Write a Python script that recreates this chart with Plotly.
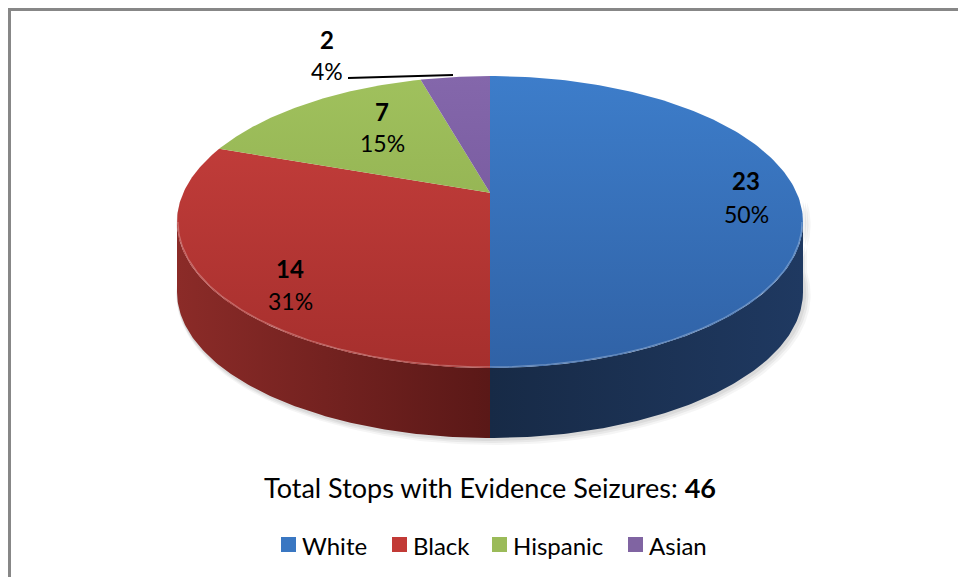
import numpy as np
import plotly.graph_objects as go

# ---- data -------------------------------------------------------------
categories = ["White", "Black", "Hispanic", "Asian"]
counts = [23, 14, 7, 2]
percent_labels = ["50%", "31%", "15%", "4%"]
total_stops = 46
title_text = "Total Stops with Evidence Seizures: "

# ---- styling ----------------------------------------------------------
FONT = "Lato"
TOP_LIGHT = ["#3d7dca", "#c8403d", "#a0c15d", "#8467ab"]
TOP_DARK = ["#3062a6", "#a62f2d", "#88a649", "#6d4f94"]
SIDE_LEFT = ["#172a46", "#8b2b28", "#6b8536", "#55407a"]
SIDE_RIGHT = ["#1f3961", "#5a1817", "#4f6427", "#3c2b57"]
LEGEND_COLORS = ["#3a77c2", "#c23a36", "#9bbb59", "#8064a2"]

# 3-D pie geometry (screen units: the axes span the figure in pixels)
CX, CY = 490.0, 222.0      # centre of the top ellipse
RX, RY = 313.0, 146.0      # radii of the top ellipse
TILT = 0.2                 # perspective shift of the pie centre toward the back
DEPTH = 70.0               # thickness of the disc
K = np.sqrt(1 - TILT ** 2)

W, H = 958, 577


def project(theta, r=1.0):
    """Perspective map of a disc point (angle clockwise from 12 o'clock)."""
    u = r * np.sin(theta)
    v = r * np.cos(theta)
    d = 1 + TILT * v
    return CX + RX * u * K / d, CY - RY * (v + TILT) / d


def screen_phi(theta):
    x, y = project(theta)
    phi = np.arctan2((y - CY) / RY, (x - CX) / RX)
    if phi < -np.pi / 2 - 1e-9:
        phi += 2 * np.pi
    return phi


fig = go.Figure()

total = float(sum(counts))
bounds = np.concatenate([[0.0], np.cumsum(counts) / total]) * 2 * np.pi

# soft shadow under the front rim
for off, alpha in [(7, 0.04), (5, 0.05), (3, 0.06)]:
    ph = np.linspace(-0.15, np.pi + 0.15, 200)
    sx = CX + (RX + off * 0.6) * np.cos(ph) + off * 0.5
    sy = CY + DEPTH + (RY + off * 0.6) * np.sin(ph) + off * 0.4
    fig.add_trace(go.Scatter(
        x=np.concatenate([sx, sx[::-1]]),
        y=np.concatenate([sy, sy[::-1] - DEPTH]),
        mode="lines", line=dict(width=0), fill="toself",
        fillcolor=f"rgba(0,0,0,{alpha})", hoverinfo="skip", showlegend=False))

# visible side walls (front half of the disc)
for i, name in enumerate(categories):
    pa, pb = screen_phi(bounds[i]), screen_phi(bounds[i + 1])
    if bounds[i + 1] >= 2 * np.pi - 1e-9:
        pb = 1.5 * np.pi
    lo, hi = max(pa, 0.0), min(pb, np.pi)
    if hi <= lo:
        continue
    ph = np.linspace(lo, hi, 120)
    tx = CX + RX * np.cos(ph)
    ty = CY + RY * np.sin(ph)
    xs = np.concatenate([tx, tx[::-1], tx[:1]])
    ys = np.concatenate([ty, ty[::-1] + DEPTH, ty[:1]])
    fig.add_trace(go.Scatter(
        x=xs, y=ys, mode="lines", line=dict(width=0), fill="toself",
        fillgradient=dict(type="horizontal", start=float(tx.min()), stop=float(tx.max()),
                          colorscale=[[0, SIDE_LEFT[i]], [1, SIDE_RIGHT[i]]]),
        hoverinfo="skip", showlegend=False))

# top faces
apex = project(0.0, 0.0)
for i, name in enumerate(categories):
    th = np.linspace(bounds[i], bounds[i + 1], 160)
    ax_, ay_ = project(th)
    xs = np.concatenate([[apex[0]], ax_, [apex[0]]])
    ys = np.concatenate([[apex[1]], ay_, [apex[1]]])
    fig.add_trace(go.Scatter(
        x=xs, y=ys, mode="lines", line=dict(width=0), fill="toself",
        fillgradient=dict(type="vertical", start=CY - RY, stop=CY + RY,
                          colorscale=[[0, TOP_LIGHT[i]], [1, TOP_DARK[i]]]),
        name=name, hovertemplate=f"{name}: {counts[i]}<extra></extra>",
        showlegend=False))

# faint highlight along the front edge of the top face
ph = np.linspace(0, np.pi, 200)
fig.add_trace(go.Scatter(
    x=CX + (RX - 1) * np.cos(ph), y=CY + (RY - 1) * np.sin(ph),
    mode="lines", line=dict(width=1.2, color="rgba(255,255,255,0.28)"),
    hoverinfo="skip", showlegend=False))

# ---- data labels ------------------------------------------------------
LABEL_POS = [(746, 180, 214), (290, 268, 301), (382, 111, 143), (327, 39, 71)]
annotations = []
for i in range(len(categories)):
    x, y1, y2 = LABEL_POS[i]
    annotations.append(dict(x=x, y=y1, text=f"<b>{counts[i]}</b>", showarrow=False,
                            font=dict(family=FONT, size=24, color="#000000"),
                            xanchor="center", yanchor="middle"))
    annotations.append(dict(x=x, y=y2, text=percent_labels[i], showarrow=False,
                            font=dict(family=FONT, size=23, color="#000000"),
                            xanchor="center", yanchor="middle"))

# leader line for the small slice
shapes = [dict(type="line", x0=348, y0=78, x1=453, y1=75,
               line=dict(color="#000000", width=2), layer="above")]

# title under the pie
annotations.append(dict(x=490, y=487, text=f"{title_text}<b>{total_stops}</b>",
                        showarrow=False, font=dict(family=FONT, size=27, color="#000000"),
                        xanchor="center", yanchor="middle"))

# legend
LEGEND_X = [281, 392, 492, 628]
for i, name in enumerate(categories):
    x0 = LEGEND_X[i]
    shapes.append(dict(type="rect", x0=x0, x1=x0 + 15, y0=537, y1=552,
                       fillcolor=LEGEND_COLORS[i], line=dict(width=0)))
    annotations.append(dict(x=x0 + 19, y=545, text=name, showarrow=False,
                            font=dict(family=FONT, size=24, color="#000000"),
                            xanchor="left", yanchor="middle"))

# chart frame
shapes.append(dict(type="rect", x0=9.5, y0=9.5, x1=W + 40, y1=H + 40,
                   line=dict(color="#878787", width=3), layer="above"))

fig.update_layout(
    width=W, height=H,
    margin=dict(l=0, r=0, t=0, b=0),
    paper_bgcolor="#ffffff", plot_bgcolor="#ffffff",
    xaxis=dict(range=[0, W], visible=False, fixedrange=True),
    yaxis=dict(range=[H, 0], visible=False, fixedrange=True),
    showlegend=False,
    annotations=annotations,
    shapes=shapes,
)

fig.write_html("out.html")
